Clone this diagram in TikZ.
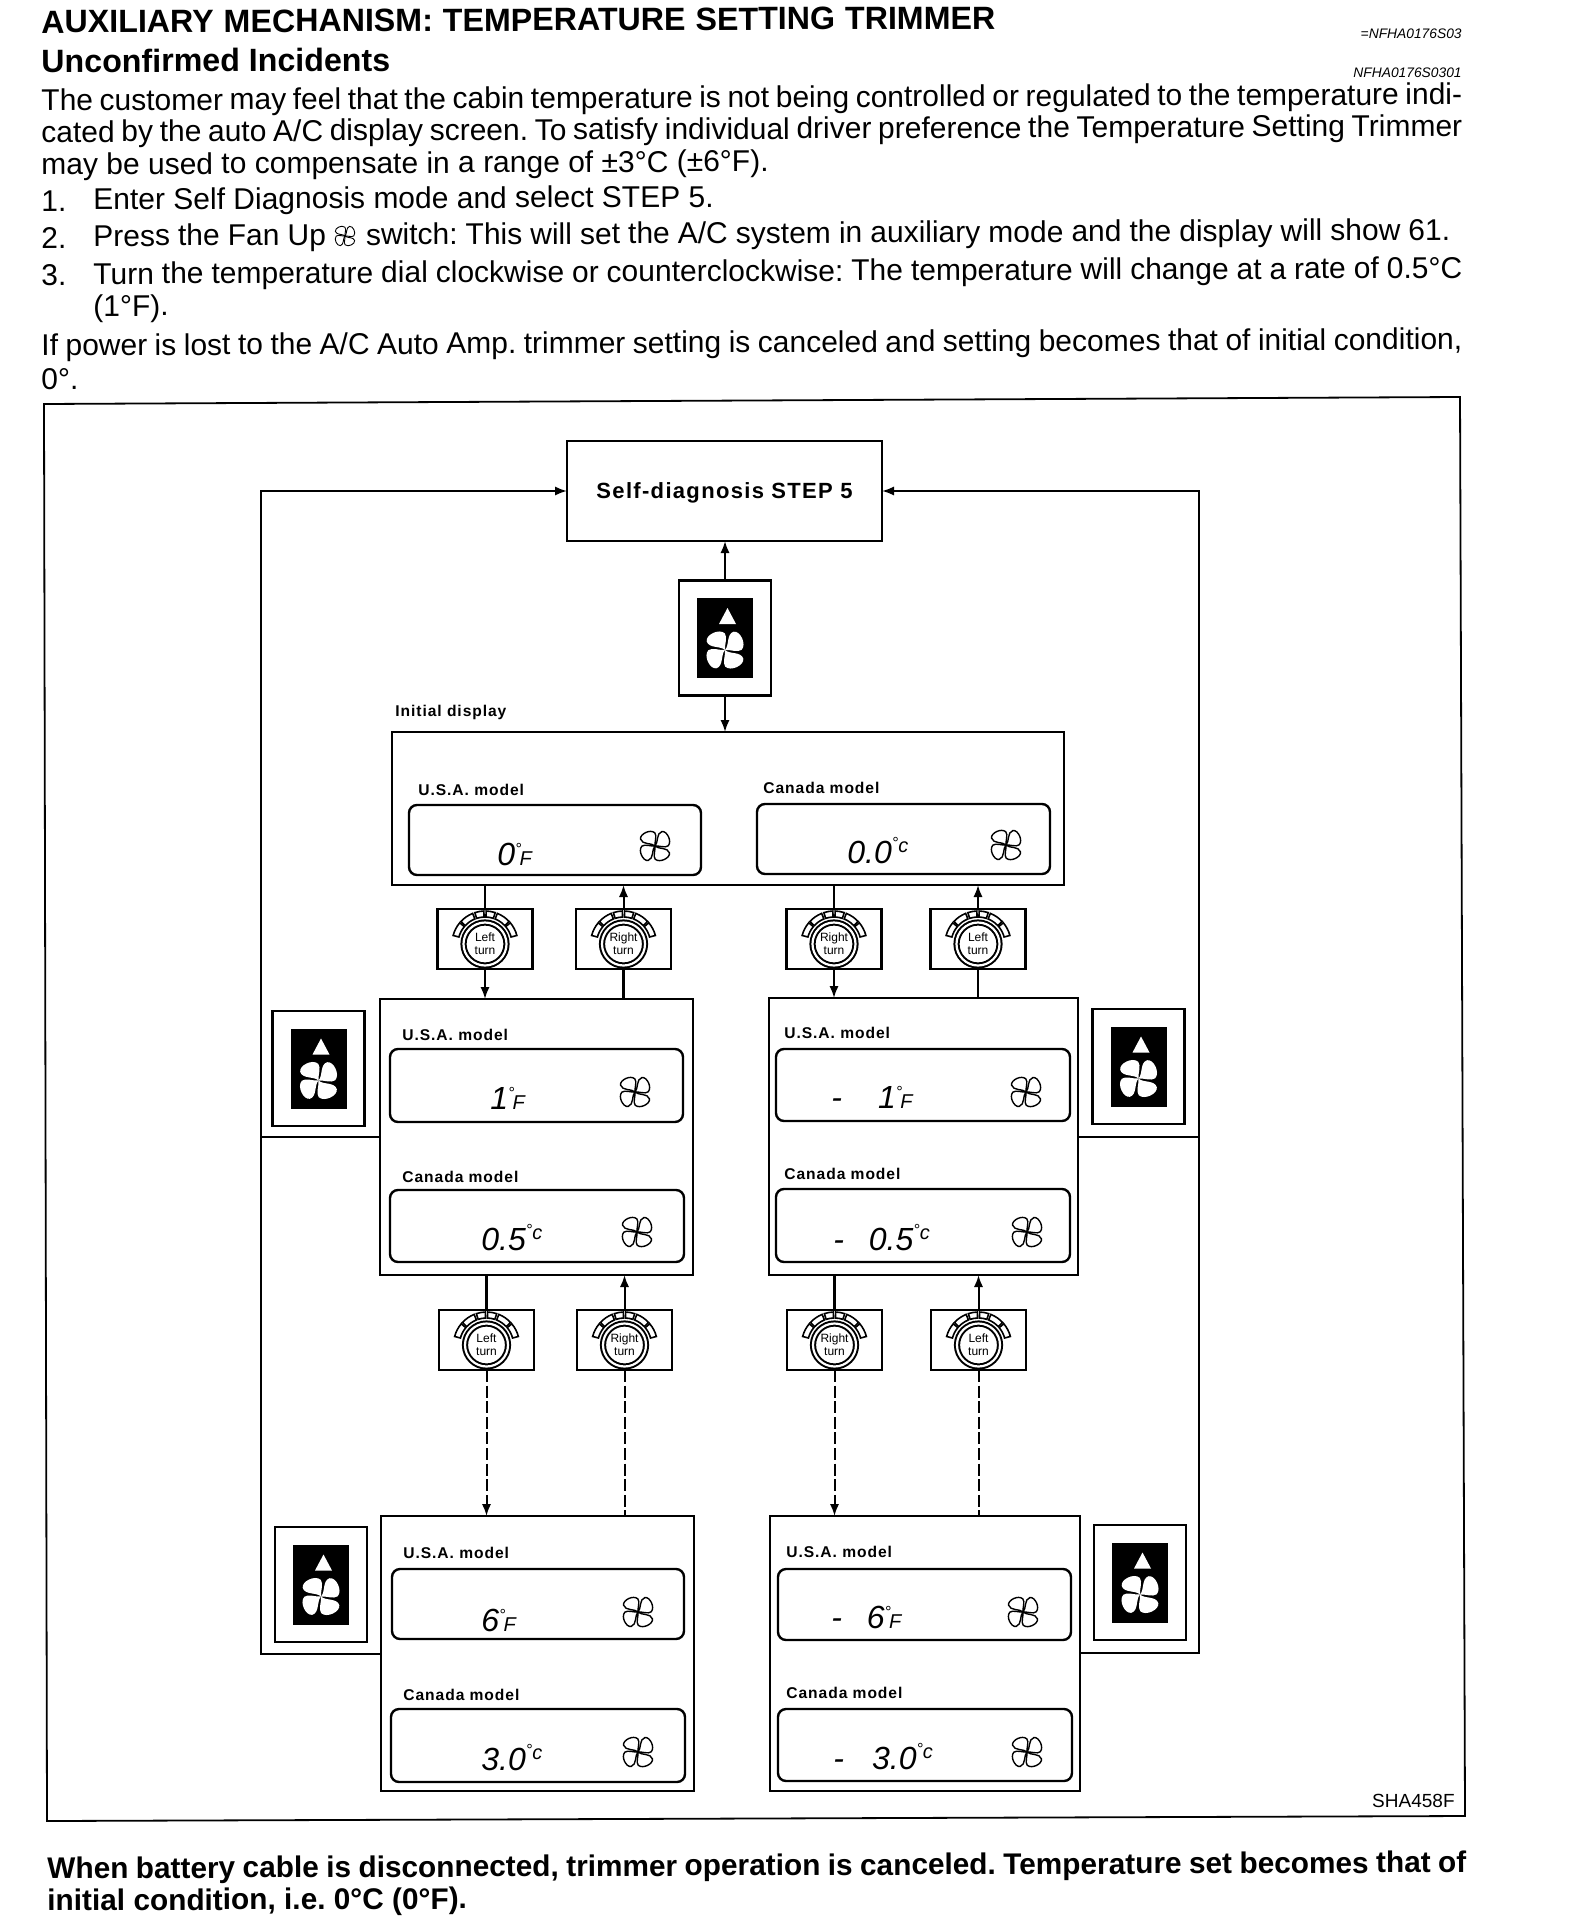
\documentclass[tikz,border=0pt]{standalone}
\usepackage{fontspec}
\setmainfont{Liberation Sans}
\newfontfamily\wideface[LetterSpace=6]{Liberation Sans}
\usetikzlibrary{arrows.meta, positioning}
\frenchspacing
\newcommand{\fitline}[2]{\makebox[#1pt][s]{#2}}
\newcommand{\unitF}{{\fontsize{10}{10}\selectfont\raisebox{5.5pt}{\fontsize{8}{8}\selectfont °}\kern-1pt F}}
\newcommand{\unitC}{{\fontsize{10}{10}\selectfont\raisebox{7.5pt}{\fontsize{8}{8}\selectfont °}\raisebox{5.5pt}{c}}}
\tikzset{
  panel/.style={draw, line width=1.2pt, inner sep=0pt, outer sep=0pt},
  lcdbox/.style={panel, rounded corners=4pt},
  modeltext/.style={anchor=west, inner sep=0pt, font=\wideface\bfseries\fontsize{7.8}{8}\selectfont},
  lcdtext/.style={anchor=base west, inner sep=0pt, font=\itshape\fontsize{16}{16}\selectfont},
  bodyline/.style={anchor=west, inner sep=0pt, rotate=.25, font=\fontsize{15}{15}\selectfont},
  boldline/.style={bodyline, font=\bfseries\fontsize{14.9}{15}\selectfont},
  flow/.style={line width=1pt, -{Latex[length=6pt, width=4.6pt]}},
  plainflow/.style={line width=1.2pt},
  dashedflow/.style={flow, dash pattern=on 6pt off 1.8pt},
  plaindash/.style={line width=1pt, dash pattern=on 6pt off 1.8pt},
  fanbox/.style={panel, minimum width=46pt, minimum height=57.5pt},
  dialbox/.style={panel, minimum width=47.5pt, minimum height=30pt},
  dialband/.style={draw, line width=.8pt, fill=white},
  dialknob/.style={circle, draw, double, double distance=1.1pt, line width=1pt, fill=white,
    minimum size=21.5pt, inner sep=0pt, align=center, font=\fontsize{6}{6.5}\selectfont},
  pics/fanwheel/.style={code={
    \foreach \turn in {25,115,205,295}{
      \path[pic actions, rotate=\turn] (0,0) .. controls (-.1,-.3) and (-.74,-.42) .. (-.68,-.82)
        .. controls (-.6,-1.15) and (.2,-1.18) .. (.36,-.8)
        .. controls (.42,-.55) and (.08,-.25) .. (0,0);
    }
  }},
}
\newcommand{\panelat}[6]{
  \node[#1, minimum width={(#5-#3)*.5pt}, minimum height={(#6-#4)*.5pt}] (#2) at ({(#3+#5)/2},{(#4+#6)/2}) {};
}
\newcommand{\fanbutton}[3]{
  \node[fanbox] (#1) at (#2,#3) {};
  \begin{scope}[shift={(#2,#3)}]
    \fill[black] (-28,-40) rectangle (28,40);
    \fill[white] (-6,-14) -- (11,-14) -- (2.5,-30) -- cycle;
    \pic[fill=white, scale=19] at (0,12) {fanwheel};
  \end{scope}
}
\newcommand{\dialbutton}[4]{
  \node[dialbox] (#1) at (#2,#3) {};
  \begin{scope}[shift={(#2,#3+5)}]
    \foreach \startang/\stopang in {15/40, 43/68, 72/88, 92/108, 112/137, 140/165}{
      \path[dialband] (\startang:13.5pt) arc[start angle=\startang, end angle=\stopang, radius=13.5pt]
        -- (\stopang:16.5pt) arc[start angle=\stopang, end angle=\startang, radius=16.5pt] -- cycle;
    }
    \node[dialknob] (#1knob) at (0,0) {#4\\turn};
  \end{scope}
}
\begin{document}
\begin{tikzpicture}[x=.5pt, y=-.5pt]
  \useasboundingbox (0,0) rectangle (1568,1920);
  \fill[white] (0,0) rectangle (1568,1920);

  \node[boldline, font=\bfseries\fontsize{16.1}{16}\selectfont] (title) at (41,22) {\fitline{477}{AUXILIARY MECHANISM: TEMPERATURE SETTING TRIMMER}};
  \node[boldline, font=\bfseries\fontsize{16.1}{16}\selectfont] (subtitle) at (41,61) {Unconfirmed Incidents};
  \node[inner sep=0pt, anchor=east, font=\itshape\fontsize{6.9}{7}\selectfont] (tagone) at (1462,34) {=NFHA0176S03};
  \node[inner sep=0pt, anchor=east, font=\itshape\fontsize{6.9}{7}\selectfont] (tagtwo) at (1462,73) {NFHA0176S0301};

  \node[bodyline] (lineone) at (41,103) {\fitline{710.5}{The customer may feel that the cabin temperature is not being controlled or regulated to the temperature indi-}};
  \node[bodyline] (linetwo) at (41,134.5) {\fitline{710.5}{cated by the auto A/C display screen. To satisfy individual driver preference the Temperature Setting Trimmer}};
  \node[bodyline] (linethree) at (41,167) {may be used to compensate in a range of ±3°C (±6°F).};
  \node[bodyline] (numone) at (41,201) {1.};
  \node[bodyline] (stepone) at (93,202) {Enter Self Diagnosis mode and select STEP 5.};
  \node[bodyline] (numtwo) at (41,238) {2.};
  \node[bodyline] (steptwo) at (93,238.5) {\fitline{678.5}{Press the Fan Up \kern 16pt switch: This will set the A/C system in auxiliary mode and the display will show 61.}};
  \pic[draw, line width=.45pt, scale=10] at (345,236) {fanwheel};
  \node[bodyline] (numthree) at (41,275) {3.};
  \node[bodyline] (stepthree) at (93,276.5) {\fitline{684.5}{Turn the temperature dial clockwise or counterclockwise: The temperature will change at a rate of 0.5°C}};
  \node[bodyline] (stepcont) at (93,308.5) {(1°F).};
  \node[bodyline] (powerone) at (41,348) {\fitline{710.5}{If power is lost to the A/C Auto Amp. trimmer setting is canceled and setting becomes that of initial condition,}};
  \node[bodyline] (powertwo) at (41,379) {0°.};

  \draw[line width=.9pt] (44,404) -- (1460,397) -- (1465,1816) -- (47,1821) -- cycle;
  \node[inner sep=0pt, anchor=east, font=\fontsize{9.5}{10}\selectfont] (figcode) at (1455,1801) {SHA458F};

  \panelat{panel}{selfdiag}{567}{441}{882}{541}
  \node[inner sep=0pt, yshift=-1pt, font=\wideface\bfseries\fontsize{11}{11}\selectfont] (selfdiagtext) at (selfdiag) {Self-diagnosis STEP 5};

  \fanbutton{fantop}{725}{638}
  \fanbutton{fanrowl}{318.5}{1068.5}
  \fanbutton{fanrowr}{1138.5}{1066.5}
  \fanbutton{fanlastl}{321}{1584.5}
  \fanbutton{fanlastr}{1140}{1582.5}

  \node[modeltext] (initialtext) at (395,712) {Initial display};
  \panelat{panel}{initial}{392}{732}{1064}{885}
  \node[modeltext] (initusa) at (418,790) {U.S.A. model};
  \node[modeltext] (initcan) at (763,788) {Canada model};
  \panelat{lcdbox}{lcdinitusa}{409}{805}{701}{875}
  \panelat{lcdbox}{lcdinitcan}{757}{804}{1050}{874}
  \node[lcdtext] (readinitusa) at (497,865) {0\unitF};
  \node[lcdtext] (readinitcan) at (847,863) {0.0\unitC};

  \panelat{panel}{midl}{380}{999}{693}{1275}
  \node[modeltext] (midlusa) at (402,1035) {U.S.A. model};
  \node[modeltext] (midlcan) at (402,1177) {Canada model};
  \panelat{lcdbox}{lcdmidlusa}{390}{1049}{683}{1122}
  \panelat{lcdbox}{lcdmidlcan}{390}{1190}{684}{1262}
  \node[lcdtext] (readmidlusa) at (490,1109) {1\unitF};
  \node[lcdtext] (readmidlcan) at (481,1250) {0.5\unitC};

  \panelat{panel}{midr}{769}{998}{1078}{1275}
  \node[modeltext] (midrusa) at (784,1033) {U.S.A. model};
  \node[modeltext] (midrcan) at (784,1174) {Canada model};
  \panelat{lcdbox}{lcdmidrusa}{776}{1049}{1070}{1121}
  \panelat{lcdbox}{lcdmidrcan}{776}{1189}{1070}{1262}
  \node[lcdtext] (readmidrusa) at (831,1108) {-\kern 18pt 1\unitF};
  \node[lcdtext] (readmidrcan) at (833,1250) {-\kern 12.4pt 0.5\unitC};

  \panelat{panel}{lastl}{381}{1516}{694}{1791}
  \node[modeltext] (lastlusa) at (403,1553) {U.S.A. model};
  \node[modeltext] (lastlcan) at (403,1695) {Canada model};
  \panelat{lcdbox}{lcdlastlusa}{392}{1569}{684}{1639}
  \panelat{lcdbox}{lcdlastlcan}{391}{1709}{685}{1782}
  \node[lcdtext] (readlastlusa) at (481,1631) {6\unitF};
  \node[lcdtext] (readlastlcan) at (481,1770) {3.0\unitC};

  \panelat{panel}{lastr}{770}{1516}{1080}{1791}
  \node[modeltext] (lastrusa) at (786,1552) {U.S.A. model};
  \node[modeltext] (lastrcan) at (786,1693) {Canada model};
  \panelat{lcdbox}{lcdlastrusa}{778}{1569}{1071}{1640}
  \panelat{lcdbox}{lcdlastrcan}{778}{1709}{1072}{1781}
  \node[lcdtext] (readlastrusa) at (831,1628) {-\kern 12.4pt 6\unitF};
  \node[lcdtext] (readlastrcan) at (833,1769) {-\kern 14pt 3.0\unitC};

  \foreach \fanx/\fany in {655/846, 1006/845, 635/1092, 637/1232, 1026/1092, 1027/1232, 638/1612, 638/1752, 1023/1612, 1027/1752}{
    \pic[draw, line width=.7pt, scale=15] at (\fanx,\fany) {fanwheel};
  }

  \dialbutton{dialone}{485}{939}{Left}
  \dialbutton{dialtwo}{623.5}{939}{Right}
  \dialbutton{dialthree}{834}{939}{Right}
  \dialbutton{dialfour}{978}{939}{Left}
  \dialbutton{dialfive}{486.5}{1340}{Left}
  \dialbutton{dialsix}{624.5}{1340}{Right}
  \dialbutton{dialseven}{834.5}{1340}{Right}
  \dialbutton{dialeight}{978.5}{1340}{Left}

  \draw[flow] (fantop.north) -- (fantop.north |- selfdiag.south);
  \draw[flow] (fantop.south) -- (fantop.south |- initial.north);

  \draw[plainflow] (dialone.north) -- (dialone.north |- initial.south);
  \draw[flow] (dialone.south) -- (dialone.south |- midl.north);
  \draw[flow] (dialtwo.north) -- (dialtwo.north |- initial.south);
  \draw[plainflow] (dialtwo.south) -- (dialtwo.south |- midl.north);
  \draw[plainflow] (dialthree.north) -- (dialthree.north |- initial.south);
  \draw[flow] (dialthree.south) -- (dialthree.south |- midr.north);
  \draw[flow] (dialfour.north) -- (dialfour.north |- initial.south);
  \draw[plainflow] (dialfour.south) -- (dialfour.south |- midr.north);

  \draw[plainflow] (dialfive.north) -- (dialfive.north |- midl.south);
  \draw[dashedflow] (dialfive.south) -- (dialfive.south |- lastl.north);
  \draw[flow] (dialsix.north) -- (dialsix.north |- midl.south);
  \draw[plaindash] (dialsix.south) -- (dialsix.south |- lastl.north);
  \draw[plainflow] (dialseven.north) -- (dialseven.north |- midr.south);
  \draw[dashedflow] (dialseven.south) -- (dialseven.south |- lastr.north);
  \draw[flow] (dialeight.north) -- (dialeight.north |- midr.south);
  \draw[plaindash] (dialeight.south) -- (dialeight.south |- lastr.north);

  \coordinate (loopl) at (261,491);
  \coordinate (loopr) at (1199,491);
  \coordinate (midljoin) at (380,1137);
  \coordinate (lastljoin) at (381,1654);
  \coordinate (midrjoin) at (1078,1137);
  \coordinate (lastrjoin) at (1080,1653);
  \draw[flow] (lastljoin) -| (loopl) -- (loopl -| selfdiag.west);
  \draw[flow] (lastrjoin) -| (loopr) -- (loopr -| selfdiag.east);
  \draw[plainflow] (midljoin) -- (midljoin -| loopl);
  \draw[plainflow] (midrjoin) -- (midrjoin -| loopr);

  \node[boldline] (noteone) at (47,1871) {\fitline{709.5}{When battery cable is disconnected, trimmer operation is canceled. Temperature set becomes that of}};
  \node[boldline] (notetwo) at (47,1903) {initial condition, i.e. 0°C (0°F).};
\end{tikzpicture}
\end{document}
